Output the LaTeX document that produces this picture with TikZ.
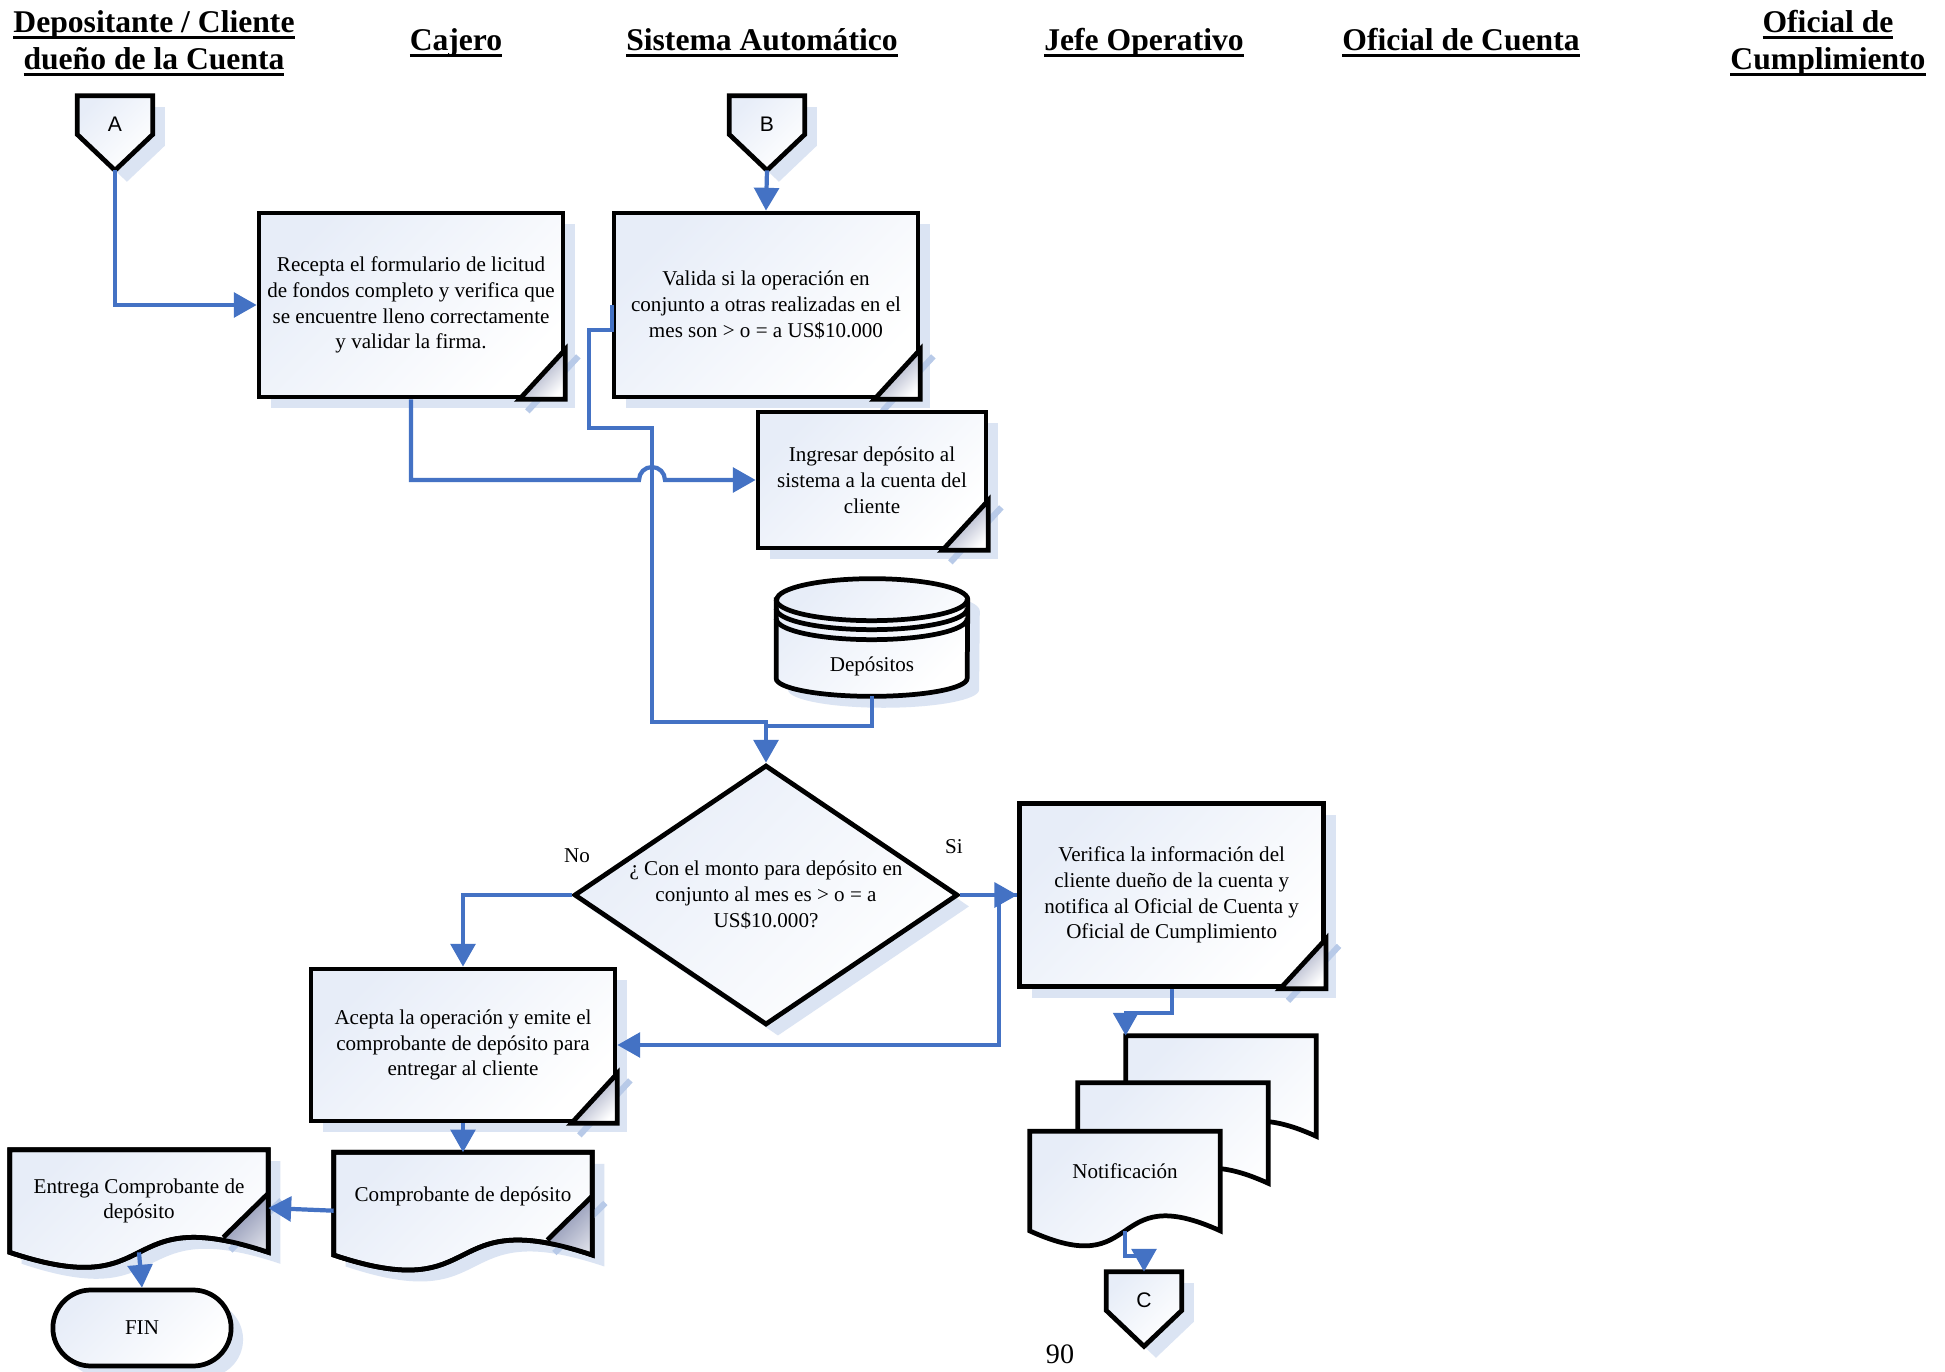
\documentclass[tikz,border=0pt]{standalone}
\usepackage{fontspec}
\setmainfont{Liberation Serif}
\newfontfamily\arialf{Liberation Sans}
\usepackage{tikz}
\usetikzlibrary{calc, positioning, shapes.geometric, shapes.misc, shadows, arrows.meta}

\definecolor{fillc}{RGB}{231,237,248}
\definecolor{shadc}{RGB}{219,228,243}
\definecolor{shadl}{RGB}{184,202,232}
\definecolor{foldc}{RGB}{130,138,172}
\definecolor{linkc}{RGB}{68,114,196}

\pgfdeclarelayer{bg}
\pgfsetlayers{bg,main}

\newcommand{\bodyf}{\fontsize{12}{14.7}\selectfont}
\newcommand{\hdrf}{\bfseries\fontsize{18}{21}\selectfont}
\newcommand{\connf}{\arialf\fontsize{12}{14}\selectfont}
\newcommand{\pagef}{\fontsize{16}{19}\selectfont}
\newcommand{\hd}[1]{\setbox0\hbox{#1}\rlap{\rule[-3.6pt]{\wd0}{1.7pt}}\box0}

\tikzset{
    outl/.style={draw=black, line width=2.7pt},
    shapefill/.style={outl, top color=fillc, bottom color=white, shading angle=45},
    shad/.style={drop shadow={shadow xshift=6.8pt, shadow yshift=-6.5pt, fill=shadc, opacity=1}},
    proc/.style={rectangle, shapefill, shad, align=center, inner sep=2pt, font=\bodyf},
    doctext/.style={rectangle, align=center, inner sep=0pt, font=\bodyf},
    conn/.style={inner sep=0pt, font=\connf, minimum width=1.5cm, text height=0.71cm, text depth=0.05cm},
    txt/.style={inner sep=0pt, font=\bodyf},
    hdr/.style={inner sep=0pt, font=\hdrf, align=center},
    foldfill/.style={top color=foldc, bottom color=white, shading angle=45},
    shline/.style={draw=shadl, line width=3.5pt},
    link/.style={draw=linkc, line width=2.4pt, -{Triangle[length=13pt,width=14pt]}},
    linkplain/.style={draw=linkc, line width=2.4pt}
}

\newcommand{\fold}[1]{%
  \draw[shline] ($(#1.south east)+(-38,12)$) -- ($(#1.south east)+(13,-43)$);
  \fill[foldfill] ($(#1.south east)+(-46,0)$) -- ($(#1.south east)+(0,-50)$) -- (#1.south east) -- cycle;
  \draw[outl] ($(#1.south east)+(0,-50)$) -- (#1.south east) -- ($(#1.south east)+(-46,0)$) -- cycle;}

\newcommand{\docpath}[1]{(#1.north west) -- (#1.north east) -- (#1.south east) .. controls ($(#1.south east)!0.6!(#1.south west)+(0,-52)$) and ($(#1.south west)!0.6!(#1.south east)+(0,52)$) .. (#1.south west) -- cycle}

\newcommand{\docfold}[1]{%
  \draw[shline] ($(#1.south east)+(-38,-2)$) -- ($(#1.south east)+(13,-52)$);
  \begin{scope}
    \clip \docpath{#1};
    \fill[foldfill] ($(#1.south east)+(0,-59)$) -- ($(#1.south east)+(-45,-15)$) -- ($(#1.south east)+(-45,30)$) -- ($(#1.south east)+(10,30)$) -- ($(#1.south east)+(10,-59)$) -- cycle;
  \end{scope}
  \draw[outl] ($(#1.south east)+(0,-59)$) -- ($(#1.south east)+(-45,-15)$);
  \draw[outl] \docpath{#1};}

\begin{document}
\begin{tikzpicture}[x=0.02cm, y=-0.02cm]
            \begin{pgfonlayer}{bg}
            \path[use as bounding box, fill=white] (0,0) rectangle (1945,1372);
            \end{pgfonlayer}

            \node[hdr] (h1) at (154,43) {\hd{Depositante / Cliente}\\\hd{dueño de la Cuenta}};
            \node[hdr] (h2) at (456,43) {\hd{Cajero}};
            \node[hdr] (h3) at (762,43) {\hd{Sistema Automático}};
            \node[hdr] (h4) at (1144,43) {\hd{Jefe Operativo}};
            \node[hdr] (h5) at (1461,43) {\hd{Oficial de Cuenta}};
            \node[hdr] (h6) at (1828,43) {\hd{Oficial de}\\\hd{Cumplimiento}};

            \node[conn] (A) at (115,115) {A};
            \node[conn] (B) at (767,115) {B};
            \node[conn] (C) at (1144,1291) {C};
            \begin{pgfonlayer}{bg}
            \foreach \c in {A,B,C}
                \path[shapefill, shad] (\c.north west) -- (\c.north east) -- (\c.south east) -- ($(\c.south)+(0,36)$) -- (\c.south west) -- cycle;
            \end{pgfonlayer}
            \coordinate (A-tip) at ($(A.south)+(0,36)$);
            \coordinate (B-tip) at ($(B.south)+(0,36)$);

            \node[proc, minimum width=6.08cm, minimum height=3.68cm] (rec) at (411,305) {Recepta el formulario de licitud\\de fondos completo y verifica que\\se encuentre lleno correctamente\\y validar la firma.};
            \fold{rec}
            \node[proc, minimum width=6.08cm, minimum height=3.68cm] (val) at (766,305) {Valida si la operación en\\conjunto a otras realizadas en el\\mes son > o = a US\$10.000};
            \fold{val}
            \node[proc, minimum width=4.56cm, minimum height=2.72cm] (ing) at (872,480) {Ingresar depósito al\\sistema a la cuenta del\\cliente};
            \fold{ing}

            \node[txt, minimum width=3.82cm, text height=1.84cm, text depth=0.48cm] (db) at (872,638) {Depósitos};
            \begin{pgfonlayer}{bg}
            \path[shapefill, shad] ($(db.north west)+(0,20)$) -- ($(db.south west)+(0,-18)$) arc[start angle=180, end angle=360, x radius=1.91cm, y radius=0.36cm] -- ($(db.north east)+(0,20)$) arc[start angle=0, end angle=180, x radius=1.91cm, y radius=0.42cm] -- cycle;
            \end{pgfonlayer}
            \foreach \d in {20,29,39}
                \draw[outl] ($(db.north west)+(0,\d)$) arc[start angle=180, end angle=360, x radius=1.91cm, y radius=0.42cm];

            \node[diamond, shapefill, shad, aspect=1.48, minimum width=7.68cm, minimum height=5.2cm, inner sep=0pt, align=center, font=\bodyf] (dec) at (766,895) {¿ Con el monto para depósito en\\conjunto al mes es > o = a\\US\$10.000?};
            \node[proc, minimum width=6.08cm, minimum height=3.66cm, right=1.14cm of dec] (ver) {Verifica la información del\\cliente dueño de la cuenta y\\notifica al Oficial de Cuenta y\\Oficial de Cumplimiento};
            \fold{ver}
            \node[proc, minimum width=6.08cm, minimum height=3.04cm] (acp) at (463,1045) {Acepta la operación y emite el\\comprobante de depósito para\\entregar al cliente};
            \fold{acp}

            \node[doctext, minimum width=5.16cm, minimum height=2.04cm, text height=0.3cm, text depth=0.4cm, below=0.58cm of acp] (cmp) {Comprobante de depósito};
            \node[doctext, minimum width=5.16cm, minimum height=2.04cm] (ent) at (139,1201) {Entrega Comprobante de\\depósito};
            \node[rounded rectangle, shapefill, shad, minimum width=3.8cm, minimum height=1.52cm, font=\bodyf] (fin) at (142,1328) {FIN};

            \node[doctext, minimum width=3.8cm, minimum height=2cm] (nb) at (1221,1086) {};
            \node[doctext, minimum width=3.8cm, minimum height=2cm] (nm) at (1173,1133) {};
            \node[doctext, minimum width=3.8cm, minimum height=1.98cm, text height=0.3cm, text depth=0.4cm] (nf) at (1125,1181) {Notificación};

            \begin{pgfonlayer}{bg}
            \path[shapefill, shad] \docpath{cmp};
            \docfold{cmp}
            \path[shapefill, shad] \docpath{ent};
            \docfold{ent}
            \path[shapefill] \docpath{nb};
            \path[shapefill] \docpath{nm};
            \path[shapefill] \docpath{nf};
            \end{pgfonlayer}

            \node[txt] (lno) at (577,856) {No};
            \node[txt] (lsi) at (954,847) {Si};
            \node[txt, font=\pagef] (pg) at (1060,1354) {90};

            \draw[link] (A-tip) |- (rec.west);
            \draw[link] (B-tip) -- (val.north);
            \draw[link] (rec.south) |- (639,480) arc[start angle=180, end angle=0, radius=0.26cm] -- (ing.west);
            \draw[link] (val.west) -- ++(0,25) -| (589,428) -| (652,722) -| (dec.north);
            \draw[linkplain] (db.south) |- ($(dec.north)+(0,-37)$);
            \draw[link] (dec.west) -| (acp.north);
            \draw[link] (dec.east) -- (ver.west);
            \draw[link] (ver.west) -- ++(-18,0) |- (acp.east);
            \draw[link] (ver.south) -- ++(0,24) -| (nb.north west);
            \draw[link] (nf.south) -- ++(0,25) -| (C.north);
            \draw[link] (acp.south) -- (cmp.north);
            \draw[link] ($(cmp.west)+(0,7)$) -- ($(ent.east)+(0,7)$);
            \draw[link] (ent.south) -- (fin.north);
\end{tikzpicture}
\end{document}
